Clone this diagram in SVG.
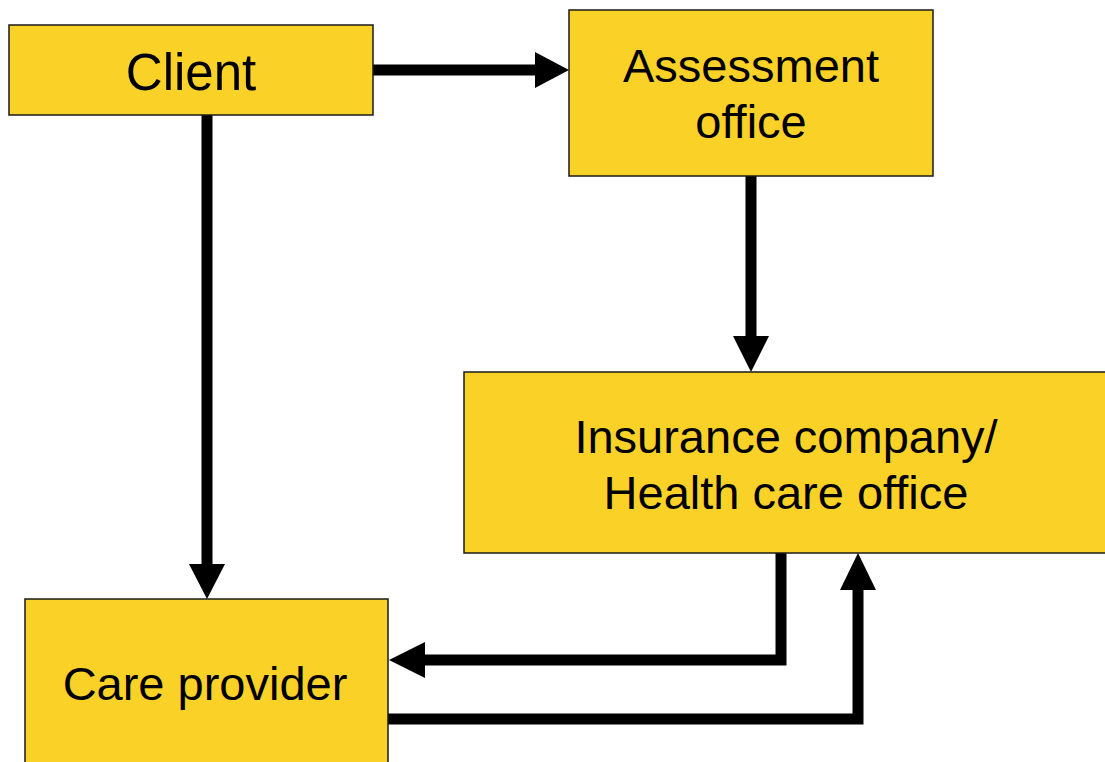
<svg xmlns="http://www.w3.org/2000/svg" width="1105" height="762" viewBox="0 0 1105 762">
  <style>
    .box { fill: #FAD227; stroke: #1a1a1a; stroke-width: 1.5; }
    .label { font-family: "Liberation Sans", Arial, sans-serif; font-size: 47px; fill: #000; text-anchor: middle; }
    .big { font-size: 51px; }
    .wire { fill: none; stroke: #000; stroke-width: 11; stroke-linejoin: miter; }
    .head { fill: #000; }
  </style>
  <rect width="1105" height="762" fill="#fff"/>

  <g id="connectors">
    <!-- Client to Assessment office -->
    <path class="wire" d="M373,70 H537"/>
    <polygon class="head" points="569,70 535,52 535,88"/>
    <!-- Client to Care provider -->
    <path class="wire" d="M207,115 V567"/>
    <polygon class="head" points="207,599 189,564 225,564"/>
    <!-- Assessment office to Insurance company -->
    <path class="wire" d="M751,176 V340"/>
    <polygon class="head" points="751,372 733,336 769,336"/>
    <!-- Insurance company back to Care provider -->
    <path class="wire" d="M781,553 V660 H420"/>
    <polygon class="head" points="389,660 425,642 425,678"/>
    <!-- Care provider up to Insurance company -->
    <path class="wire" d="M388,719 H858 V586"/>
    <polygon class="head" points="858,553 840,590 876,590"/>
  </g>

  <g id="client">
    <rect class="box" x="9" y="25" width="364" height="90"/>
    <text class="label big" x="191" y="90">Client</text>
  </g>

  <g id="assessment-office">
    <rect class="box" x="569" y="10" width="364" height="166"/>
    <text class="label" x="751" y="82">Assessment</text>
    <text class="label" x="751" y="138">office</text>
  </g>

  <g id="insurance-company">
    <rect class="box" x="464" y="372" width="645" height="181"/>
    <text class="label" x="786" y="453">Insurance company/</text>
    <text class="label" x="786" y="509">Health care office</text>
  </g>

  <g id="care-provider">
    <rect class="box" x="25" y="599" width="363" height="170"/>
    <text class="label" x="205" y="700">Care provider</text>
  </g>
</svg>
